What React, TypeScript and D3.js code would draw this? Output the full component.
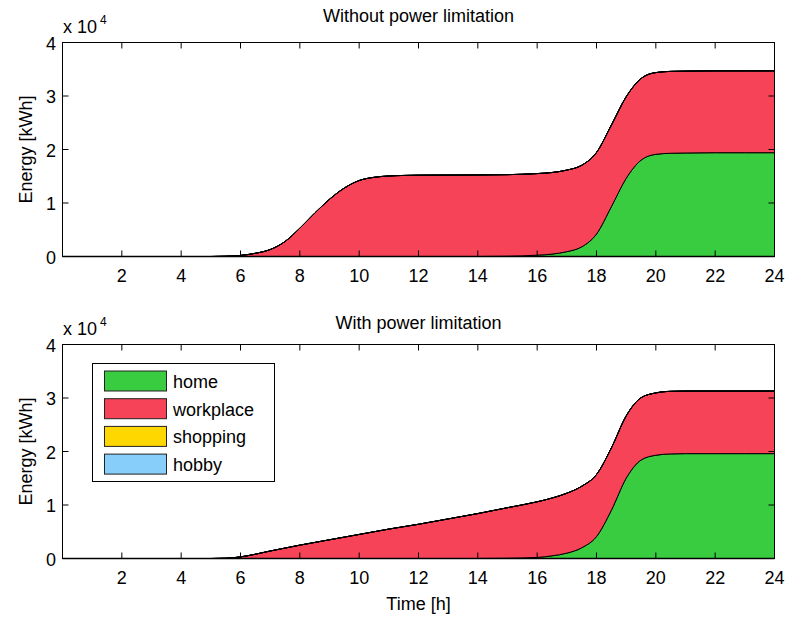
import React from 'react';
import * as d3 from 'd3';

// Time axis (hours)
const hours = [0, 1, 2, 3, 4, 5, 5.5, 6, 6.5, 7, 7.5, 8, 8.5, 9, 9.5, 10, 10.5, 11, 11.5, 12, 13, 14, 15, 16, 16.5, 17, 17.5, 18, 18.5, 19, 19.5, 20, 20.5, 21, 22, 23, 24];

// Energy in units of 10^4 kWh — without power limitation
const homeNoLimit = [0, 0, 0, 0, 0, 0, 0, 0, 0, 0, 0, 0, 0, 0, 0, 0, 0, 0, 0, 0, 0, 0, 0.005, 0.025, 0.045, 0.09, 0.18, 0.42, 0.93, 1.46, 1.80, 1.91, 1.93, 1.935, 1.94, 1.94, 1.94];
const workNoLimit = [0, 0, 0, 0, 0, 0, 0.005, 0.02, 0.06, 0.13, 0.28, 0.53, 0.81, 1.07, 1.28, 1.42, 1.48, 1.505, 1.515, 1.52, 1.522, 1.524, 1.525, 1.525, 1.525, 1.525, 1.525, 1.525, 1.525, 1.525, 1.525, 1.528, 1.53, 1.53, 1.53, 1.53, 1.53];
const shopNoLimit = [0, 0, 0, 0, 0, 0, 0, 0, 0, 0, 0, 0, 0, 0, 0, 0, 0, 0, 0, 0, 0, 0, 0, 0, 0, 0, 0, 0, 0, 0, 0, 0, 0, 0, 0, 0, 0];
const hobbyNoLimit = [0, 0, 0, 0, 0, 0, 0, 0, 0, 0, 0, 0, 0, 0, 0, 0, 0, 0, 0, 0, 0, 0, 0, 0, 0, 0, 0, 0, 0, 0, 0, 0, 0, 0, 0, 0, 0];

// Energy in units of 10^4 kWh — with power limitation
const homeLimit = [0, 0, 0, 0, 0, 0, 0, 0, 0, 0, 0, 0, 0, 0, 0, 0, 0, 0, 0, 0, 0, 0, 0.005, 0.02, 0.05, 0.10, 0.20, 0.41, 0.90, 1.50, 1.84, 1.93, 1.955, 1.96, 1.96, 1.96, 1.96];
const workLimit = [0, 0, 0, 0, 0, 0, 0.005, 0.03, 0.08, 0.14, 0.195, 0.25, 0.30, 0.35, 0.40, 0.45, 0.50, 0.55, 0.595, 0.64, 0.74, 0.84, 0.945, 1.04, 1.08, 1.12, 1.15, 1.16, 1.165, 1.165, 1.165, 1.165, 1.17, 1.17, 1.17, 1.17, 1.17];
const shopLimit = [0, 0, 0, 0, 0, 0, 0, 0, 0, 0, 0, 0, 0, 0, 0, 0, 0, 0, 0, 0, 0, 0, 0, 0, 0, 0, 0, 0, 0, 0, 0, 0, 0, 0, 0, 0, 0];
const hobbyLimit = [0, 0, 0, 0, 0, 0, 0, 0, 0, 0, 0, 0, 0, 0, 0, 0, 0, 0, 0, 0, 0, 0, 0, 0, 0, 0, 0, 0, 0, 0, 0, 0, 0, 0, 0, 0, 0];

const seriesNames = ['home', 'workplace', 'shopping', 'hobby'];
const seriesColors = ['#3ACC40', '#F64358', '#FFD700', '#87CEFA'];
const xTicks = [2, 4, 6, 8, 10, 12, 14, 16, 18, 20, 22, 24];
const yTicks = [0, 1, 2, 3, 4];

const FONT = '"Liberation Sans", Arial, Helvetica, sans-serif';
const LEFT = 62.5;
const RIGHT = 774.5;
const H = 214;

type PanelProps = {
  top: number;
  title: string;
  titleY: number;
  cols: number[][];
  xLabel?: string;
  legend?: boolean;
};

function Panel({ top, title, titleY, cols, xLabel, legend }: PanelProps) {
  const bottom = top + H;
  const x = d3.scaleLinear().domain([0, 24]).range([LEFT, RIGHT]);
  const y = d3.scaleLinear().domain([0, 4]).range([bottom, top]);
  const rows = hours.map((h, i) => {
    const r: any = { h };
    seriesNames.forEach((s, k) => (r[s] = cols[k][i]));
    return r;
  });
  const stacked = d3.stack<any>().keys(seriesNames)(rows);
  const area = d3
    .area<any>()
    .x((d) => x(d.data.h))
    .y0((d) => y(d[0]))
    .y1((d) => y(d[1]))
    .curve(d3.curveMonotoneX);
  const clipId = `clip-${Math.round(top)}`;
  const tick = 6;
  return (
    <g>
      <defs>
        <clipPath id={clipId}>
          <rect x={LEFT} y={top} width={RIGHT - LEFT} height={H} />
        </clipPath>
      </defs>
      <rect x={LEFT} y={top} width={RIGHT - LEFT} height={H} fill="#fff" />
      <g clipPath={`url(#${clipId})`}>
        {stacked.map((s, k) => (
          <path key={k} d={area(s) || ''} fill={seriesColors[k]} stroke="#000" strokeWidth={1} strokeLinejoin="round" />
        ))}
      </g>
      {xTicks.map((t) => (
        <g key={'x' + t}>
          <line x1={x(t)} x2={x(t)} y1={bottom} y2={bottom - tick} stroke="#000" strokeWidth={1} />
          <line x1={x(t)} x2={x(t)} y1={top} y2={top + tick} stroke="#000" strokeWidth={1} />
          <text x={x(t)} y={bottom + 25} textAnchor="middle" fontSize={18} fontFamily={FONT} fill="#000">
            {t}
          </text>
        </g>
      ))}
      {yTicks.map((t) => (
        <g key={'y' + t}>
          <line x1={LEFT} x2={LEFT + tick} y1={y(t)} y2={y(t)} stroke="#000" strokeWidth={1} />
          <line x1={RIGHT} x2={RIGHT - tick} y1={y(t)} y2={y(t)} stroke="#000" strokeWidth={1} />
          <text x={56} y={y(t) + 1} textAnchor="end" dominantBaseline="central" fontSize={18} fontFamily={FONT} fill="#000">
            {t}
          </text>
        </g>
      ))}
      <rect x={LEFT} y={top} width={RIGHT - LEFT} height={H} fill="none" stroke="#000" strokeWidth={1} />
      <line x1={LEFT} x2={RIGHT} y1={bottom} y2={bottom} stroke="#000" strokeWidth={1.5} />
      <text x={63} y={top - 10} fontSize={18} fontFamily={FONT} fill="#000">
        x 10
      </text>
      <text x={100} y={top - 19} fontSize={12} fontFamily={FONT} fill="#000">
        4
      </text>
      <text x={(LEFT + RIGHT) / 2} y={titleY} textAnchor="middle" fontSize={18} fontFamily={FONT} fill="#000">
        {title}
      </text>
      <text
        transform={`translate(32,${(top + bottom) / 2}) rotate(-90)`}
        textAnchor="middle"
        fontSize={18}
        fontFamily={FONT}
        fill="#000"
      >
        Energy [kWh]
      </text>
      {xLabel && (
        <text x={(LEFT + RIGHT) / 2} y={bottom + 51} textAnchor="middle" fontSize={18} fontFamily={FONT} fill="#000">
          {xLabel}
        </text>
      )}
      {legend && (
        <g>
          <rect x={92.5} y={363.5} width={182} height={118} fill="#fff" stroke="#000" strokeWidth={1} />
          {seriesNames.map((s, k) => (
            <g key={s}>
              <rect x={104.5} y={371 + k * 27.7} width={62} height={20} fill={seriesColors[k]} stroke="#222" strokeWidth={1} />
              <text x={173} y={381 + k * 27.7 + 7} fontSize={18} fontFamily={FONT} fill="#000">
                {s}
              </text>
            </g>
          ))}
        </g>
      )}
    </g>
  );
}

export default function App() {
  return (
    <div style={{ position: 'absolute', left: 0, top: 0 }}>
      <svg width={791} height={617} style={{ display: 'block', background: '#fff' }}>
        <rect width={791} height={617} fill="#fff" />
        <Panel
          top={42.5}
          title="Without power limitation"
          titleY={22}
          cols={[homeNoLimit, workNoLimit, shopNoLimit, hobbyNoLimit]}
        />
        <Panel
          top={344.5}
          title="With power limitation"
          titleY={328.5}
          cols={[homeLimit, workLimit, shopLimit, hobbyLimit]}
          xLabel="Time [h]"
          legend
        />
      </svg>
    </div>
  );
}
